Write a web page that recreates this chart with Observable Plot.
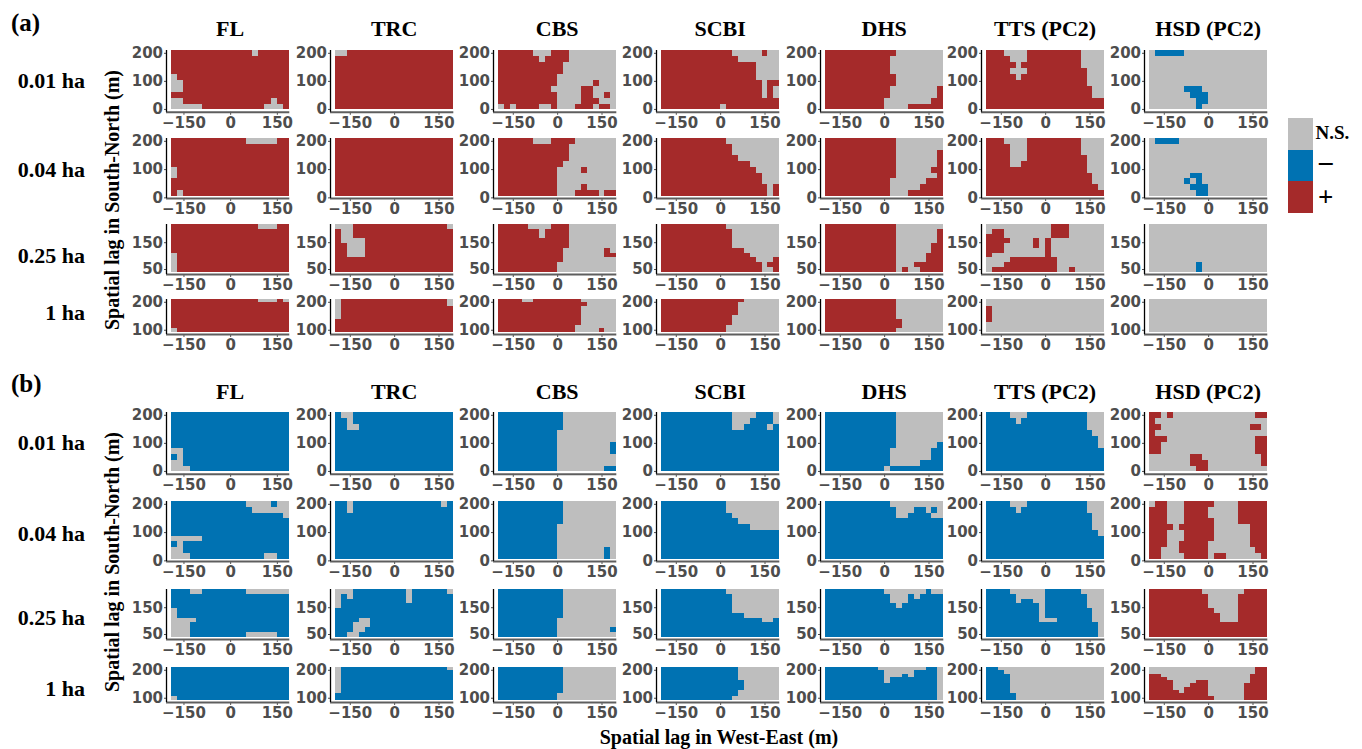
<!DOCTYPE html>
<html><head><meta charset="utf-8">
<script src="https://cdn.jsdelivr.net/npm/d3@7"></script>
<script src="https://cdn.jsdelivr.net/npm/@observablehq/plot@0.6"></script>
<style>
html,body{margin:0;padding:0;background:#fff;}
#root{position:relative;width:1362px;height:749px;overflow:hidden;background:#fff;}
.t{position:absolute;font-family:"Liberation Serif","Times New Roman",serif;font-weight:bold;color:#000;white-space:nowrap;line-height:1;}
.sw{position:absolute;}
</style></head><body><div id="root"></div>
<script>
// ---------------- data ----------------
const sites = ["FL","TRC","CBS","SCBI","DHS","TTS (PC2)","HSD (PC2)"];
const scaleNames = ["0.01 ha","0.04 ha","0.25 ha","1 ha"];
const panelNames = ["(a)","(b)"];
const siteXExtent = [[-190,190],[-200,200],[-200,200],[-200,200],[-200,200],[-200,200],[-200,200]];
const scaleYExtent = [[-2,210],[6,210],[40,218],[93,210]];
const xTicks = [-150,0,150];
const yTicks = [[0,100,200],[0,100,200],[50,150],[100,200]];
const legendLabels = ["N.S.","\u2212","+"];
const legendCodes = [".","-","+"];
const legendColors = ["#BEBEBE","#0072B2","#A52A2A"];
const yTitle = "Spatial lag in South-North (m)";
const xTitle = "Spatial lag in West-East (m)";

// Grids: one entry per site (FL..HSD), rows from north (top) to south, run-length coded
// "." = N.S., "-" = negative, "+" = positive
const panelA_001 = [
 ["13+1.5+","19+","19+","19+","1.18+","2.17+","2.17+","19+","2.14+1.2+","5.10+3.1+"],
 ["2.18+","20+","20+","20+","20+","20+","20+","20+","20+","20+"],
 ["6+3.3+8.","7+1.4+8.","11+9.","11+9.","10+10.","10+6.1+3.","9+5.2+4.","10+4.2+2.1+1.","10+4.3+3.","1.1+1.4+2.1+3.3+1.2+1."],
 ["12+5.1+2.","13+7.","16+4.","16+4.","16+4.","17+1.2+","17+1.1+1.","17+1.1+1.","20+","10+1.9+"],
 ["12+8.","11+9.","11+9.","11+9.","12+8.","12+8.","11+8.1+","11+8.1+","10+8.2+","10+4.6+"],
 ["3+4.9+4.","4+3.9+4.","5+1.10+4.","4+3.10+3.","5+1.11+3.","17+3.","18+2.","18+2.","20+","20+"],
 ["1.5-14.","20.","20.","20.","20.","20.","6.3-11.","7.3-10.","8.2-10.","8.1-11."]
];
const panelA_004 = [
 ["12+5.2+","19+","19+","19+","19+","1.18+","1.18+","19+","19+","1+1.17+"],
 ["20+","20+","20+","20+","20+","20+","20+","20+","20+","20+"],
 ["6+3.4+7.","12+8.","12+8.","12+8.","11+9.","10+4.1+5.","10+10.","10+10.","10+4.1+5.","10+3.4+1.2+"],
 ["11+9.","12+8.","12+8.","13+7.","15+5.","16+4.","17+3.","17+3.","18+1.1+","18+1.1+"],
 ["12+8.","12+8.","12+7.1+","12+7.1+","12+7.1+","12+6.2+","12+7.1+","11+6.3+","11+5.4+","11+3.6+"],
 ["3+4.9+4.","4+3.9+4.","4+3.9+4.","4+3.10+3.","4+2.11+3.","17+3.","18+2.","18+2.","19+1.","20+"],
 ["1.4-15.","20.","20.","20.","20.","20.","7.2-11.","6.1-1.1-11.","7.3-10.","8.2-10."]
];
const panelA_025 = [
 ["14+3.2+","19+","19+","19+","19+","19+","1.18+","1.18+","1.18+","1.18+"],
 ["3.16+1.","1+2.17+","1+2.17+","1+4.15+","2+3.15+","2+3.15+","2+3.15+","20+","20+","20+"],
 ["5+4.3+8.","7+1.4+8.","7+1.4+8.","12+8.","12+8.","11+7.1+1.","11+7.2+","11+9.","10+10.","10+10."],
 ["11+9.","12+8.","12+8.","12+8.","12+8.","14+6.","15+5.","16+3.1+","17+1.2+","17+2.1+"],
 ["12+8.","12+7.1+","12+7.1+","12+7.1+","12+6.2+","12+6.2+","12+5.3+","12+5.3+","12+3.5+","12+1.1+2.4+"],
 ["11.3+6.","1.2+8.3+6.","3+8.3+6.","4+4.1+1.1+9.","3+5.1+1.1+9.","3+7.1+9.","1+9.1+9.","4.8+8.","3.9+8.","1.11+2.1+5."],
 ["20.","20.","20.","20.","20.","20.","20.","20.","8.1-11.","8.1-11."]
];
const panelA_1 = [
 ["14+3.1+1.","19+","19+","19+","19+","19+","19+","19+","19+","1.18+"],
 ["1.18+1.","1.18+1.","1.19+","1.19+","1.19+","1.19+","20+","20+","20+","20+"],
 ["4+2.8+6.","15+5.","14+6.","14+6.","14+6.","14+6.","14+6.","14+6.","13+7.","13+4.1+2."],
 ["14+6.","13+7.","13+7.","13+7.","13+7.","12+8.","12+8.","12+8.","11+9.","11+9."],
 ["12+8.","12+8.","12+8.","12+8.","12+8.","12+8.","13+7.","13+7.","13+7.","12+8."],
 ["20.","20.","1+19.","1+19.","1+19.","1+19.","1+19.","20.","20.","20."],
 ["20.","20.","20.","20.","20.","20.","20.","20.","20.","20."]
];
const panelB_001 = [
 ["19-","19-","19-","19-","19-","19-","2.17-","1-1.17-","2.17-","3.16-"],
 ["1-2.17-","2-1.17-","2-2.16-","20-","20-","20-","20-","20-","20-","20-"],
 ["11-9.","11-9.","11-9.","10-10.","10-10.","10-9.1-","10-9.1-","10-10.","10-10.","10-8.2-"],
 ["12-4.3-1.","12-3.4-1.","12-2.4-1.1-","20-","20-","20-","20-","20-","20-","20-"],
 ["12-8.","12-8.","12-8.","12-8.","12-8.","12-7.1-","11-7.2-","11-7.2-","11-5.4-","10-1.9-"],
 ["4-3.10-3.","5-1.11-3.","17-3.","18-2.","19-1.","19-1.","20-","20-","20-","20-"],
 ["2+1.1+14.2+","1+19.","2+15.2+1.","1+19.","3+15.2+","2+16.2+","2+16.2+","7.2+10.1+","7.3+9.1+","8.2+10."]
];
const panelB_004 = [
 ["12-4.1-2.","13-6.","18-1.","19-","19-","19-","5.14-","1-1.17-","2.17-","3.12-2.2-"],
 ["2-1.15-1.1-","2-1.17-","20-","20-","20-","20-","20-","20-","20-","20-"],
 ["11-9.","11-9.","11-9.","11-9.","10-10.","10-10.","10-10.","10-10.","10-8.1-1.","10-8.1-1."],
 ["11-9.","11-9.","12-8.","13-7.","15-5.","20-","20-","20-","20-","20-"],
 ["11-9.","12-3.2-1.1-1.","12-2.4-2.","20-","20-","20-","20-","20-","20-","20-"],
 ["4-3.10-3.","5-1.11-3.","18-2.","18-2.","18-2.","19-1.","20-","20-","20-","20-"],
 ["1.2+3.5+4.5+","3+3.4+5.5+","3+3.4+5.5+","3+3.5+4.5+","4+1.6+6.3+","3+3.5+6.3+","3+3.5+6.3+","3+2.5+7.3+","2+3.5+8.2+","2+4.4+1.2+6.1+"]
];
const panelB_025 = [
 ["3-2.7-7.","19-","19-","19-","1.18-","1.18-","4.15-","3.16-","3.16-","3.9-5.2-"],
 ["3.9-1.6-1.","1.1-1.9-1.7-","1.11-1.7-","1.19-","20-","20-","4-2.14-","3-3.14-","3-2.15-","2-2.16-"],
 ["11-9.","11-9.","11-9.","11-9.","11-9.","11-9.","10-10.","10-10.","10-9.1-","10-10."],
 ["11-9.","12-8.","12-8.","12-8.","12-8.","14-6.","17-2.1-","20-","20-","20-"],
 ["10-7.1-2.","11-3.1-1.4-","11-3.6-","12-1.7-","20-","20-","20-","20-","20-","20-"],
 ["4-6.6-4.","5-5.7-3.","5-1.2-2.7-3.","9-1.7-3.","9-1.8-2.","9-1.8-2.","9-3.6-2.","19-1.","19-1.","19-1."],
 ["9+7.4+","10+5.5+","10+5.5+","10+5.5+","11+4.5+","12+3.5+","12+3.5+","20+","20+","20+"]
];
const panelB_1 = [
 ["19-","19-","19-","19-","19-","19-","19-","19-","19-","1.18-"],
 ["1.18-1.","1.19-","1.19-","1.19-","1.19-","1.19-","1.19-","1.19-","20-","20-"],
 ["11-9.","11-9.","11-9.","11-9.","11-9.","11-9.","11-9.","11-9.","10-10.","10-10."],
 ["13-7.","13-7.","13-7.","13-7.","14-6.","14-6.","14-6.","13-7.","13-7.","12-8."],
 ["9-8.2-1.","10-5.4-1.","10-3.1-1.4-1.","10-1.8-1.","10-1.8-1.","19-1.","19-1.","19-1.","19-1.","19-1."],
 ["2-18.","3-17.","4-16.","4-16.","4-16.","4-16.","4-16.","4-16.","5-15.","5-15."],
 ["18.2+","18.2+","2+15.3+","3+14.3+","4+4.2+7.3+","4+3.3+6.4+","4+2.4+6.4+","5+1.4+6.4+","10+6.4+","11+5.4+"]
];

// ---------------- layout ----------------
const rasterLeft = [171, 335, 498, 661, 825, 986, 1149];
const rasterW = 118.3;
const rasterTop = [[50, 138.3, 224, 299], [411.7, 500.7, 589, 666.7]];
const rasterH = [59.5, 57.7, 47.7, 32.7];
const gapX = 5, gapY = 2.3;
const M = {l: 40, r: 14, t: 8, b: 24};
const titleY = [29, 392];
const rowLabelY = [[81, 170, 255.5, 312.5], [442.5, 534, 617.5, 689]];
const yTitleY = [200, 562];
const panelLabelY = [22, 383];

const root = document.getElementById("root");
const fmt = d => d < 0 ? "\u2212" + Math.abs(d) : String(d);
const codeToLabel = Object.fromEntries(legendCodes.map((c, i) => [c, legendLabels[i]]));
function decodeRuns(rle) {
  // returns [{start, len, code}]
  const out = []; let pos = 0;
  for (const m of rle.matchAll(/(\d+)([.+\-])/g)) { out.push({start: pos, len: +m[1], code: m[2]}); pos += +m[1]; }
  return out;
}
function addText(txt, x, y, size, transform) {
  const d = document.createElement("div");
  d.className = "t"; d.textContent = txt;
  d.style.left = x + "px"; d.style.top = y + "px"; d.style.fontSize = size + "px";
  d.style.transform = transform || "translate(-50%,-50%)";
  root.appendChild(d);
  return d;
}

const panelGrids = [[panelA_001, panelA_004, panelA_025, panelA_1], [panelB_001, panelB_004, panelB_025, panelB_1]];

for (let p = 0; p < 2; p++) {
  for (let s = 0; s < 4; s++) {
    for (let k = 0; k < 7; k++) {
      const rows = panelGrids[p][s][k].map(decodeRuns);
      const nrow = rows.length;
      const ncol = Math.max(...rows.map(r => r.reduce((a, b) => a + b.len, 0)));
      const [x0, x1] = siteXExtent[k], [y0, y1] = scaleYExtent[s];
      const dx = (x1 - x0) / ncol, dy = (y1 - y0) / nrow;
      const cells = [];
      rows.forEach((runs, r) => runs.forEach(run => cells.push({
        x1: x0 + run.start * dx, x2: x0 + (run.start + run.len) * dx,
        y1: y1 - (r + 1) * dy, y2: y1 - r * dy, v: codeToLabel[run.code]
      })));
      const h = rasterH[s];
      const xPad = gapX * (x1 - x0) / rasterW, yPad = gapY * (y1 - y0) / h;
      const svg = Plot.plot({
        width: M.l + gapX + rasterW + M.r,
        height: M.t + h + gapY + M.b,
        marginLeft: M.l, marginRight: M.r, marginTop: M.t, marginBottom: M.b,
        x: {domain: [x0 - xPad, x1], ticks: xTicks, tickFormat: fmt, tickSize: 3, tickPadding: 2, label: null},
        y: {domain: [y0 - yPad, y1], ticks: yTicks[s], tickFormat: fmt, tickSize: 2, tickPadding: 1.5, label: null},
        color: {type: "ordinal", domain: legendLabels, range: legendColors},
        marks: [
          Plot.rect(cells, {x1: "x1", x2: "x2", y1: "y1", y2: "y2", fill: "v", shapeRendering: "crispEdges"}),
          Plot.ruleY([y0 - yPad], {stroke: "#5e5e5e", strokeWidth: 2}),
          Plot.ruleX([x0 - xPad], {stroke: "#000", strokeWidth: 1.3})
        ]
      });
      Object.assign(svg.style, {
        position: "absolute",
        left: (rasterLeft[k] - gapX - M.l) + "px",
        top: (rasterTop[p][s] - M.t) + "px",
        background: "none", overflow: "visible", maxWidth: "none",
        fontFamily: "'DejaVu Sans', sans-serif", fontSize: "15px", fontWeight: "bold", color: "#4d4d4d"
      });
      root.appendChild(svg);
    }
  }
  for (let k = 0; k < 7; k++) addText(sites[k], rasterLeft[k] + rasterW / 2, titleY[p], 22);
  for (let s = 0; s < 4; s++) addText(scaleNames[s], 85, rowLabelY[p][s], 22, "translate(-100%,-50%)");
  addText(yTitle, 111.5, yTitleY[p], 20, "translate(-50%,-50%) rotate(-90deg)");
  addText(panelNames[p], 11, panelLabelY[p], 25, "translate(0,-50%)");
}
addText(xTitle, 719, 737, 20);

// legend
const legTop = 118, legH = 31.5;
const legLabelY = [131.5, 164, 197], legLabelX = [1315.5, 1317, 1318], legLabelSize = [19, 30, 27];
legendLabels.forEach((lab, i) => {
  const sw = document.createElement("div");
  sw.className = "sw";
  Object.assign(sw.style, {left: "1288px", top: (legTop + i * legH) + "px", width: "25px", height: legH + "px", background: legendColors[i]});
  root.appendChild(sw);
  addText(lab, legLabelX[i], legLabelY[i], legLabelSize[i], "translate(0,-50%)");
});
</script></body></html>
